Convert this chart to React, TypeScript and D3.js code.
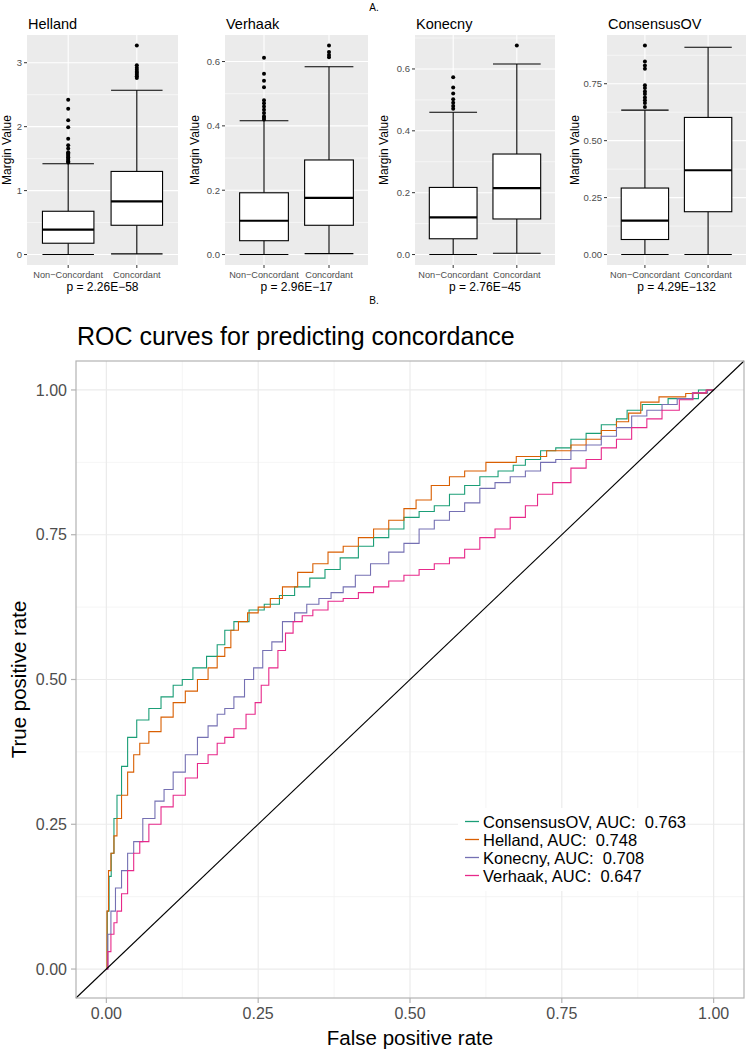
import React from 'react';
import * as d3 from 'd3';

const FONT = '"Liberation Sans", Arial, Helvetica, sans-serif';

// ---------------- Panel A data ----------------
const classifierNames = ['Helland', 'Verhaak', 'Konecny', 'ConsensusOV'];
const groupLabels = ['Non\u2212Concordant', 'Concordant'];
const pValueLabels = ['p = 2.26E\u221258', 'p = 2.96E\u221217', 'p = 2.76E\u221245', 'p = 4.29E\u2212132'];

const hellandTicks = [0, 1, 2, 3];
const verhaakTicks = [0, 0.2, 0.4, 0.6];
const konecnyTicks = [0, 0.2, 0.4, 0.6];
const consensusTicks = [0, 0.25, 0.5, 0.75];
const tickDigits = [0, 1, 1, 2];

// [lower whisker, Q1, median, Q3, upper whisker]
const hellandNonStats = [0, 0.177, 0.39, 0.677, 1.42];
const hellandConStats = [0.01, 0.458, 0.833, 1.3, 2.57];
const verhaakNonStats = [0, 0.043, 0.105, 0.192, 0.416];
const verhaakConStats = [0.003, 0.091, 0.176, 0.294, 0.584];
const konecnyNonStats = [0, 0.051, 0.12, 0.217, 0.46];
const konecnyConStats = [0.004, 0.115, 0.215, 0.325, 0.616];
const consensusNonStats = [0, 0.066, 0.149, 0.292, 0.634];
const consensusConStats = [0, 0.188, 0.37, 0.602, 0.91];

const hellandNonOutliers = [1.44, 1.46, 1.48, 1.5, 1.52, 1.54, 1.56, 1.58, 1.6, 1.66, 1.71, 1.81, 1.99, 2.1, 2.28, 2.42];
const hellandConOutliers = [2.76, 2.79, 2.81, 2.84, 2.86, 2.89, 2.92, 2.96, 3.27];
const verhaakNonOutliers = [0.42, 0.425, 0.43, 0.44, 0.45, 0.46, 0.47, 0.48, 0.52, 0.54, 0.562, 0.612];
const verhaakConOutliers = [0.613, 0.62, 0.63, 0.65];
const konecnyNonOutliers = [0.471, 0.48, 0.491, 0.502, 0.521, 0.54, 0.573];
const konecnyConOutliers = [0.676];
const consensusNonOutliers = [0.648, 0.665, 0.677, 0.69, 0.705, 0.716, 0.731, 0.743, 0.816, 0.83, 0.848, 0.918];
const consensusConOutliers: number[] = [];

// ---------------- Panel B data (FPR, TPR) ----------------
const consensusROC = [[0,0],[0.003,0.1],[0.006,0.16],[0.01,0.2],[0.015,0.26],[0.02,0.3],[0.03,0.35],[0.04,0.4],[0.06,0.43],[0.08,0.45],[0.1,0.47],[0.12,0.49],[0.13,0.5],[0.155,0.52],[0.175,0.54],[0.19,0.56],[0.2,0.585],[0.22,0.6],[0.25,0.62],[0.27,0.63],[0.3,0.645],[0.32,0.66],[0.35,0.675],[0.37,0.69],[0.4,0.71],[0.43,0.73],[0.45,0.745],[0.48,0.76],[0.5,0.78],[0.53,0.79],[0.55,0.8],[0.58,0.82],[0.6,0.835],[0.63,0.85],[0.66,0.86],[0.68,0.87],[0.7,0.88],[0.73,0.895],[0.75,0.9],[0.78,0.915],[0.8,0.925],[0.83,0.94],[0.85,0.95],[0.865,0.965],[0.9,0.975],[0.95,0.985],[1,1]];
const hellandROC = [[0,0],[0.002,0.1],[0.005,0.17],[0.01,0.2],[0.015,0.23],[0.02,0.26],[0.03,0.3],[0.04,0.34],[0.05,0.37],[0.06,0.39],[0.08,0.41],[0.1,0.435],[0.12,0.46],[0.14,0.48],[0.16,0.5],[0.175,0.52],[0.19,0.54],[0.2,0.555],[0.21,0.585],[0.225,0.6],[0.24,0.615],[0.26,0.625],[0.28,0.64],[0.3,0.66],[0.33,0.685],[0.35,0.7],[0.38,0.72],[0.4,0.73],[0.43,0.745],[0.45,0.76],[0.48,0.775],[0.5,0.795],[0.52,0.81],[0.55,0.835],[0.58,0.85],[0.6,0.86],[0.65,0.875],[0.7,0.885],[0.75,0.895],[0.78,0.905],[0.8,0.915],[0.83,0.93],[0.85,0.945],[0.87,0.96],[0.89,0.979],[0.93,0.988],[0.978,0.994],[1,1]];
const konecnyROC = [[0,0],[0.005,0.06],[0.01,0.1],[0.02,0.14],[0.03,0.17],[0.04,0.2],[0.05,0.22],[0.07,0.26],[0.09,0.29],[0.1,0.31],[0.12,0.34],[0.14,0.37],[0.16,0.4],[0.175,0.42],[0.19,0.44],[0.2,0.45],[0.22,0.47],[0.235,0.5],[0.25,0.52],[0.265,0.55],[0.28,0.565],[0.3,0.6],[0.32,0.615],[0.34,0.63],[0.36,0.64],[0.38,0.65],[0.4,0.66],[0.42,0.68],[0.45,0.7],[0.48,0.72],[0.5,0.735],[0.53,0.76],[0.55,0.775],[0.58,0.79],[0.6,0.805],[0.63,0.83],[0.65,0.84],[0.68,0.85],[0.7,0.86],[0.73,0.875],[0.75,0.88],[0.78,0.895],[0.8,0.905],[0.83,0.92],[0.85,0.935],[0.88,0.955],[0.9,0.965],[0.93,0.975],[0.95,0.985],[0.98,0.995],[1,1]];
const verhaakROC = [[0,0],[0.005,0.03],[0.01,0.06],[0.015,0.08],[0.02,0.1],[0.03,0.13],[0.04,0.17],[0.05,0.2],[0.06,0.22],[0.08,0.25],[0.1,0.28],[0.12,0.3],[0.14,0.33],[0.16,0.355],[0.175,0.37],[0.19,0.39],[0.2,0.4],[0.22,0.415],[0.24,0.44],[0.25,0.46],[0.26,0.49],[0.275,0.52],[0.29,0.55],[0.3,0.58],[0.315,0.6],[0.33,0.61],[0.35,0.62],[0.38,0.635],[0.4,0.64],[0.43,0.65],[0.45,0.66],[0.48,0.67],[0.5,0.68],[0.53,0.69],[0.55,0.7],[0.58,0.71],[0.6,0.725],[0.63,0.745],[0.65,0.76],[0.68,0.78],[0.7,0.8],[0.72,0.82],[0.75,0.84],[0.78,0.865],[0.8,0.88],[0.83,0.9],[0.85,0.915],[0.88,0.935],[0.9,0.95],[0.93,0.965],[0.957,0.983],[0.975,0.995],[1,1]];

const rocLabels = ['ConsensusOV, AUC:  0.763', 'Helland, AUC:  0.748', 'Konecny, AUC:  0.708', 'Verhaak, AUC:  0.647'];
const rocColors = ['#1B9E77', '#D95F02', '#7570B3', '#E7298A'];
const rocTicks = [0, 0.25, 0.5, 0.75, 1];

// ---------------- Layout ----------------
const W = 748, H = 1050;
const boxTop = 35, boxBottom = 265;
const boxPanelX = [[27, 178], [225, 368], [415, 555], [607, 746]];
const boxYTitleX = [11, 199, 388, 579];

const rocLeft = 76, rocRight = 744, rocTop = 361, rocBottom = 998;

function BoxPanel({ idx }: { idx: number }) {
  const statsAll = [
    [hellandNonStats, hellandConStats],
    [verhaakNonStats, verhaakConStats],
    [konecnyNonStats, konecnyConStats],
    [consensusNonStats, consensusConStats],
  ][idx];
  const outAll = [
    [hellandNonOutliers, hellandConOutliers],
    [verhaakNonOutliers, verhaakConOutliers],
    [konecnyNonOutliers, konecnyConOutliers],
    [consensusNonOutliers, consensusConOutliers],
  ][idx];
  const ticks = [hellandTicks, verhaakTicks, konecnyTicks, consensusTicks][idx];
  const [x0, x1] = boxPanelX[idx];
  const allVals = [...statsAll[0], ...statsAll[1], ...outAll[0], ...outAll[1]];
  const lo = d3.min(allVals)!, hi = d3.max(allVals)!;
  const pad = (hi - lo) * 0.05;
  const y = d3.scaleLinear().domain([lo - pad, hi + pad]).range([boxBottom, boxTop]);
  const x = d3.scaleLinear().domain([0.4, 2.6]).range([x0, x1]);
  const step = ticks[1] - ticks[0];
  const minor = ticks.map(t => t + step / 2).filter(t => t > lo - pad && t < hi + pad);
  const fmt = d3.format(`.${tickDigits[idx]}f`);
  const bw = 0.75 / 2;
  return (
    <g>
      <rect x={x0} y={boxTop} width={x1 - x0} height={boxBottom - boxTop} fill="#EBEBEB" />
      {minor.map((t, i) => (
        <line key={'mi' + i} x1={x0} x2={x1} y1={y(t)} y2={y(t)} stroke="#fff" strokeWidth={0.55} />
      ))}
      {ticks.map((t, i) => (
        <line key={'ma' + i} x1={x0} x2={x1} y1={y(t)} y2={y(t)} stroke="#fff" strokeWidth={1.1} />
      ))}
      {[1, 2].map(c => (
        <line key={'vx' + c} x1={x(c)} x2={x(c)} y1={boxTop} y2={boxBottom} stroke="#fff" strokeWidth={1.1} />
      ))}
      {statsAll.map((s, g) => {
        const cx = x(g + 1);
        const xl = x(g + 1 - bw), xr = x(g + 1 + bw);
        return (
          <g key={'b' + g} stroke="#000" fill="none">
            <line x1={cx} x2={cx} y1={y(s[0])} y2={y(s[1])} strokeWidth={1.1} />
            <line x1={cx} x2={cx} y1={y(s[3])} y2={y(s[4])} strokeWidth={1.1} />
            <line x1={xl} x2={xr} y1={y(s[0])} y2={y(s[0])} strokeWidth={1.1} />
            <line x1={xl} x2={xr} y1={y(s[4])} y2={y(s[4])} strokeWidth={1.1} />
            <rect x={xl} y={y(s[3])} width={xr - xl} height={y(s[1]) - y(s[3])} fill="#fff" strokeWidth={1.1} />
            <line x1={xl} x2={xr} y1={y(s[2])} y2={y(s[2])} strokeWidth={2.2} />
            {outAll[g].map((v, k) => (
              <circle key={k} cx={cx} cy={y(v)} r={2} fill="#000" stroke="none" />
            ))}
          </g>
        );
      })}
      {ticks.map((t, i) => (
        <g key={'yt' + i}>
          <line x1={x0 - 3} x2={x0} y1={y(t)} y2={y(t)} stroke="#333" strokeWidth={1} />
          <text x={x0 - 5} y={y(t)} dy="0.35em" textAnchor="end" fontSize={9.5} fill="#4D4D4D" fontFamily={FONT}>{fmt(t)}</text>
        </g>
      ))}
      {[1, 2].map(c => (
        <g key={'xt' + c}>
          <line x1={x(c)} x2={x(c)} y1={boxBottom} y2={boxBottom + 3} stroke="#333" strokeWidth={1} />
          <text x={x(c)} y={boxBottom + 13} textAnchor="middle" fontSize={9.2} fill="#4D4D4D" fontFamily={FONT}>{groupLabels[c - 1]}</text>
        </g>
      ))}
      <text x={(x0 + x1) / 2} y={291} textAnchor="middle" fontSize={12} fill="#000" fontFamily={FONT}>{pValueLabels[idx]}</text>
      <text x={x0 + 1} y={29} fontSize={14.5} fill="#000" fontFamily={FONT}>{classifierNames[idx]}</text>
      <text transform={`translate(${boxYTitleX[idx]},${(boxTop + boxBottom) / 2}) rotate(-90)`} textAnchor="middle" fontSize={12} fill="#000" fontFamily={FONT}>Margin Value</text>
    </g>
  );
}

function RocPanel() {
  const x = d3.scaleLinear().domain([-0.05, 1.05]).range([rocLeft, rocRight]);
  const y = d3.scaleLinear().domain([-0.05, 1.05]).range([rocBottom, rocTop]);
  const minorT = [0.125, 0.375, 0.625, 0.875];
  const fmt = d3.format('.2f');
  const line = d3.line<number[]>().x(d => x(d[0])).y(d => y(d[1])).curve(d3.curveStep);
  const curves = [consensusROC, hellandROC, konecnyROC, verhaakROC];
  const legX = 465, legBase = 828, legStep = 18;
  return (
    <g>
      <rect x={rocLeft} y={rocTop} width={rocRight - rocLeft} height={rocBottom - rocTop} fill="#fff" />
      {minorT.map((t, i) => (
        <g key={'mn' + i}>
          <line x1={x(t)} x2={x(t)} y1={rocTop} y2={rocBottom} stroke="#F2F2F2" strokeWidth={0.8} />
          <line x1={rocLeft} x2={rocRight} y1={y(t)} y2={y(t)} stroke="#F2F2F2" strokeWidth={0.8} />
        </g>
      ))}
      {rocTicks.map((t, i) => (
        <g key={'mj' + i}>
          <line x1={x(t)} x2={x(t)} y1={rocTop} y2={rocBottom} stroke="#EBEBEB" strokeWidth={1.2} />
          <line x1={rocLeft} x2={rocRight} y1={y(t)} y2={y(t)} stroke="#EBEBEB" strokeWidth={1.2} />
        </g>
      ))}
      {curves.map((c, i) => (
        <path key={'c' + i} d={line(c) || ''} fill="none" stroke={rocColors[i]} strokeWidth={1.1} />
      ))}
      <line x1={x(-0.05)} y1={y(-0.05)} x2={x(1.05)} y2={y(1.05)} stroke="#000" strokeWidth={1.1} />
      <rect x={458} y={808} width={196} height={83} fill="#fff" />
      {rocLabels.map((lab, i) => (
        <g key={'lg' + i}>
          <line x1={legX} x2={legX + 14} y1={legBase + i * legStep - 6.5} y2={legBase + i * legStep - 6.5} stroke={rocColors[i]} strokeWidth={1.3} />
          <text x={legX + 18} y={legBase + i * legStep} fontSize={16.5} fill="#000" fontFamily={FONT} style={{ whiteSpace: 'pre' }}>{lab}</text>
        </g>
      ))}
      <rect x={rocLeft} y={rocTop} width={rocRight - rocLeft} height={rocBottom - rocTop} fill="none" stroke="#B3B3B3" strokeWidth={1.2} />
      {rocTicks.map((t, i) => (
        <g key={'tk' + i}>
          <line x1={x(t)} x2={x(t)} y1={rocBottom} y2={rocBottom + 5} stroke="#B3B3B3" strokeWidth={1.2} />
          <text x={x(t)} y={rocBottom + 21} textAnchor="middle" fontSize={16} fill="#4D4D4D" fontFamily={FONT}>{fmt(t)}</text>
          <line x1={rocLeft - 5} x2={rocLeft} y1={y(t)} y2={y(t)} stroke="#B3B3B3" strokeWidth={1.2} />
          <text x={rocLeft - 9} y={y(t)} dy="0.36em" textAnchor="end" fontSize={16} fill="#4D4D4D" fontFamily={FONT}>{fmt(t)}</text>
        </g>
      ))}
      <text x={(rocLeft + rocRight) / 2} y={1045} textAnchor="middle" fontSize={20.5} fill="#000" fontFamily={FONT}>False positive rate</text>
      <text transform={`translate(26,${(rocTop + rocBottom) / 2}) rotate(-90)`} textAnchor="middle" fontSize={20.5} fill="#000" fontFamily={FONT}>True positive rate</text>
      <text x={77} y={345} fontSize={25} fill="#000" fontFamily={FONT}>ROC curves for predicting concordance</text>
    </g>
  );
}

export default function App() {
  return (
    <svg width={W} height={H} viewBox={`0 0 ${W} ${H}`} style={{ position: 'absolute', left: 0, top: 0, background: '#fff' }}>
      <rect width={W} height={H} fill="#fff" />
      <text x={374} y={11} textAnchor="middle" fontSize={10} fill="#000" fontFamily={FONT}>A.</text>
      {classifierNames.map((_, i) => <BoxPanel key={i} idx={i} />)}
      <text x={374} y={304} textAnchor="middle" fontSize={10} fill="#000" fontFamily={FONT}>B.</text>
      <RocPanel />
    </svg>
  );
}
